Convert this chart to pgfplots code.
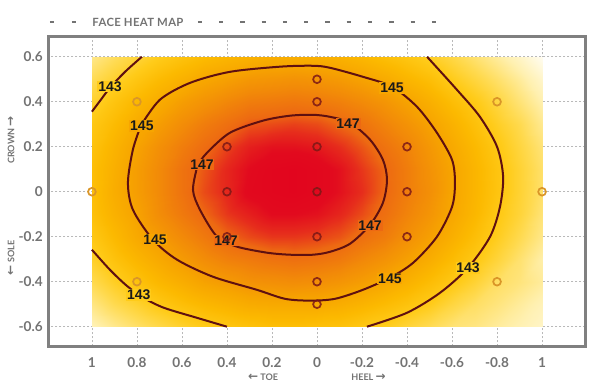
\documentclass[border=0pt]{standalone}
\usepackage{pgfplots}
\pgfplotsset{compat=1.18}
\usepackage{fontspec}
\setmainfont{Lato}
\newfontfamily\numfont{Liberation Sans}
\newfontfamily\arrowfont{DejaVu Sans}
\definecolor{tickgray}{RGB}{115,115,115}
\definecolor{framegray}{RGB}{128,128,128}
\definecolor{gridgray}{RGB}{185,185,185}
\definecolor{contourc}{RGB}{95,16,16}
\definecolor{markdark}{RGB}{125,24,22}
\definecolor{markgold}{RGB}{218,150,40}
\definecolor{c143}{RGB}{255,203,25}
\definecolor{c145}{RGB}{247,165,0}
\definecolor{c147}{RGB}{237,105,18}
\tikzset{clab/.style={font=\numfont\bfseries\fontsize{10.5}{10.5}\selectfont, text=black!90, inner sep=0.6pt}}
\begin{document}
\begin{tikzpicture}
\useasboundingbox (-36.375pt,-31.125pt) rectangle (409.125pt,259.875pt);
\begin{axis}[
  at={(0pt,0pt)}, anchor=south west,
  scale only axis, width=402.75pt, height=232.125pt,
  xmin=-1.193, xmax=1.193, ymin=-0.688, ymax=0.688,
  x dir=reverse,
  xtick={1,0.8,0.6,0.4,0.2,0,-0.2,-0.4,-0.6,-0.8,-1},
  xticklabels={1,0.8,0.6,0.4,0.2,0,-0.2,-0.4,-0.6,-0.8,1},
  ytick={-0.6,-0.4,-0.2,0,0.2,0.4,0.6},
  yticklabels={-0.6,-0.4,-0.2,0,0.2,0.4,0.6},
  major tick length=0pt,
  grid=major,
  grid style={gridgray, line width=0.5pt, dash pattern=on 1.5pt off 1.5pt},
  axis line style={framegray, line width=2.25pt},
  tick label style={font=\bfseries\fontsize{10.2}{10.2}\selectfont, text=tickgray},
  xticklabel style={yshift=-4.5pt},
  yticklabel style={xshift=-0.8pt},
  colormap={heat}{rgb255(0pt)=(255,253,245); rgb255(15pt)=(255,240,175); rgb255(30pt)=(255,218,80); rgb255(40pt)=(255,203,25); rgb255(50pt)=(252,185,0); rgb255(60pt)=(247,165,0); rgb255(70pt)=(242,138,8); rgb255(80pt)=(237,105,18); rgb255(86pt)=(230,45,28); rgb255(91pt)=(226,10,30); rgb255(96pt)=(226,4,30)},
  point meta min=139, point meta max=148.6,
]
\addplot[surf, shader=interp, mesh/cols=21, mesh/rows=13, point meta=explicit, forget plot] coordinates {
(1,.6)[141.1] (.9,.6)[141.8] (.8,.6)[142.4] (.7,.6)[143.0] (.6,.6)[143.5] (.5,.6)[143.9] (.4,.6)[144.2] (.3,.6)[144.4] (.2,.6)[144.6] (.1,.6)[144.6] (0,.6)[144.5] (-.1,.6)[144.4] (-.2,.6)[144.1] (-.3,.6)[143.7] (-.4,.6)[143.3] (-.5,.6)[142.8] (-.6,.6)[142.2] (-.7,.6)[141.5] (-.8,.6)[140.8] (-.9,.6)[140.0] (-1,.6)[139.1]
(1,.5)[141.9] (.9,.5)[142.6] (.8,.5)[143.3] (.7,.5)[143.9] (.6,.5)[144.4] (.5,.5)[144.9] (.4,.5)[145.2] (.3,.5)[145.5] (.2,.5)[145.6] (.1,.5)[145.7] (0,.5)[145.6] (-.1,.5)[145.4] (-.2,.5)[145.1] (-.3,.5)[144.7] (-.4,.5)[144.2] (-.5,.5)[143.7] (-.6,.5)[143.0] (-.7,.5)[142.3] (-.8,.5)[141.6] (-.9,.5)[140.8] (-1,.5)[139.9]
(1,.4)[142.6] (.9,.4)[143.4] (.8,.4)[144.1] (.7,.4)[144.7] (.6,.4)[145.3] (.5,.4)[145.7] (.4,.4)[146.1] (.3,.4)[146.4] (.2,.4)[146.5] (.1,.4)[146.6] (0,.4)[146.5] (-.1,.4)[146.3] (-.2,.4)[146.0] (-.3,.4)[145.6] (-.4,.4)[145.1] (-.5,.4)[144.5] (-.6,.4)[143.8] (-.7,.4)[143.1] (-.8,.4)[142.3] (-.9,.4)[141.4] (-1,.4)[140.5]
(1,.3)[143.2] (.9,.3)[143.9] (.8,.3)[144.7] (.7,.3)[145.3] (.6,.3)[145.9] (.5,.3)[146.4] (.4,.3)[146.8] (.3,.3)[147.2] (.2,.3)[147.3] (.1,.3)[147.4] (0,.3)[147.3] (-.1,.3)[147.0] (-.2,.3)[146.7] (-.3,.3)[146.2] (-.4,.3)[145.7] (-.5,.3)[145.1] (-.6,.3)[144.4] (-.7,.3)[143.6] (-.8,.3)[142.8] (-.9,.3)[142.0] (-1,.3)[141.0]
(1,.2)[143.5] (.9,.2)[144.3] (.8,.2)[145.1] (.7,.2)[145.8] (.6,.2)[146.4] (.5,.2)[146.9] (.4,.2)[147.4] (.3,.2)[147.8] (.2,.2)[148.0] (.1,.2)[148.0] (0,.2)[147.9] (-.1,.2)[147.6] (-.2,.2)[147.2] (-.3,.2)[146.7] (-.4,.2)[146.2] (-.5,.2)[145.5] (-.6,.2)[144.8] (-.7,.2)[144.0] (-.8,.2)[143.2] (-.9,.2)[142.3] (-1,.2)[141.4]
(1,.1)[143.7] (.9,.1)[144.5] (.8,.1)[145.3] (.7,.1)[146.0] (.6,.1)[146.7] (.5,.1)[147.2] (.4,.1)[147.7] (.3,.1)[148.1] (.2,.1)[148.4] (.1,.1)[148.5] (0,.1)[148.3] (-.1,.1)[148.0] (-.2,.1)[147.5] (-.3,.1)[147.0] (-.4,.1)[146.4] (-.5,.1)[145.7] (-.6,.1)[145.0] (-.7,.1)[144.2] (-.8,.1)[143.4] (-.9,.1)[142.5] (-1,.1)[141.6]
(1,0)[143.7] (.9,0)[144.6] (.8,0)[145.3] (.7,0)[146.0] (.6,0)[146.7] (.5,0)[147.3] (.4,0)[147.7] (.3,0)[148.2] (.2,0)[148.4] (.1,0)[148.5] (0,0)[148.3] (-.1,0)[148.0] (-.2,0)[147.6] (-.3,0)[147.0] (-.4,0)[146.4] (-.5,0)[145.8] (-.6,0)[145.0] (-.7,0)[144.2] (-.8,0)[143.4] (-.9,0)[142.5] (-1,0)[141.6]
(1,-.1)[143.6] (.9,-.1)[144.4] (.8,-.1)[145.1] (.7,-.1)[145.9] (.6,-.1)[146.5] (.5,-.1)[147.0] (.4,-.1)[147.5] (.3,-.1)[147.8] (.2,-.1)[148.1] (.1,-.1)[148.1] (0,-.1)[148.0] (-.1,-.1)[147.7] (-.2,-.1)[147.3] (-.3,-.1)[146.8] (-.4,-.1)[146.2] (-.5,-.1)[145.6] (-.6,-.1)[144.9] (-.7,-.1)[144.1] (-.8,-.1)[143.2] (-.9,-.1)[142.4] (-1,-.1)[141.4]
(1,-.2)[143.2] (.9,-.2)[144.0] (.8,-.2)[144.8] (.7,-.2)[145.4] (.6,-.2)[146.0] (.5,-.2)[146.5] (.4,-.2)[147.0] (.3,-.2)[147.3] (.2,-.2)[147.5] (.1,-.2)[147.5] (0,-.2)[147.4] (-.1,-.2)[147.2] (-.2,-.2)[146.8] (-.3,-.2)[146.4] (-.4,-.2)[145.8] (-.5,-.2)[145.2] (-.6,-.2)[144.5] (-.7,-.2)[143.7] (-.8,-.2)[142.9] (-.9,-.2)[142.0] (-1,-.2)[141.1]
(1,-.3)[142.7] (.9,-.3)[143.5] (.8,-.3)[144.2] (.7,-.3)[144.8] (.6,-.3)[145.4] (.5,-.3)[145.9] (.4,-.3)[146.3] (.3,-.3)[146.5] (.2,-.3)[146.7] (.1,-.3)[146.8] (0,-.3)[146.7] (-.1,-.3)[146.5] (-.2,-.3)[146.1] (-.3,-.3)[145.7] (-.4,-.3)[145.2] (-.5,-.3)[144.6] (-.6,-.3)[143.9] (-.7,-.3)[143.2] (-.8,-.3)[142.4] (-.9,-.3)[141.5] (-1,-.3)[140.6]
(1,-.4)[142.0] (.9,-.4)[142.8] (.8,-.4)[143.5] (.7,-.4)[144.1] (.6,-.4)[144.6] (.5,-.4)[145.1] (.4,-.4)[145.4] (.3,-.4)[145.7] (.2,-.4)[145.8] (.1,-.4)[145.9] (0,-.4)[145.8] (-.1,-.4)[145.6] (-.2,-.4)[145.3] (-.3,-.4)[144.9] (-.4,-.4)[144.4] (-.5,-.4)[143.8] (-.6,-.4)[143.2] (-.7,-.4)[142.5] (-.8,-.4)[141.7] (-.9,-.4)[141.3] (-1,-.4)[140.8]
(1,-.5)[141.2] (.9,-.5)[142.0] (.8,-.5)[142.6] (.7,-.5)[143.2] (.6,-.5)[143.7] (.5,-.5)[144.1] (.4,-.5)[144.4] (.3,-.5)[144.7] (.2,-.5)[144.8] (.1,-.5)[144.8] (0,-.5)[144.8] (-.1,-.5)[144.6] (-.2,-.5)[144.3] (-.3,-.5)[143.9] (-.4,-.5)[143.5] (-.5,-.5)[143.0] (-.6,-.5)[142.3] (-.7,-.5)[141.7] (-.8,-.5)[141.3] (-.9,-.5)[140.8] (-1,-.5)[140.3]
(1,-.6)[140.3] (.9,-.6)[141.0] (.8,-.6)[141.6] (.7,-.6)[142.1] (.6,-.6)[142.6] (.5,-.6)[143.0] (.4,-.6)[143.3] (.3,-.6)[143.5] (.2,-.6)[143.7] (.1,-.6)[143.7] (0,-.6)[143.6] (-.1,-.6)[143.5] (-.2,-.6)[143.2] (-.3,-.6)[142.9] (-.4,-.6)[142.4] (-.5,-.6)[141.9] (-.6,-.6)[141.4] (-.7,-.6)[141.2] (-.8,-.6)[140.8] (-.9,-.6)[140.4] (-1,-.6)[140.0]
};
% contour 147
\addplot[smooth, contourc, line width=1.5pt] coordinates {
(0.530,0.120) (0.489,0.173) (0.387,0.262) (0.240,0.316) (0.120,0.338) (0.018,0.342) (-0.058,0.333) (-0.147,0.307) (-0.236,0.231) (-0.293,0.142) (-0.311,0.053) (-0.293,-0.049) (-0.236,-0.147) (-0.147,-0.231) (-0.058,-0.267) (0.018,-0.280) (0.120,-0.280) (0.222,-0.271) (0.356,-0.244) (0.444,-0.200) (0.520,-0.080) (0.551,0.009) (0.530,0.120)};
% contour 145
\addplot[smooth, contourc, line width=1.5pt] coordinates {
(0.783,0.293) (0.698,0.409) (0.564,0.484) (0.387,0.533) (0.164,0.556) (0.018,0.560) (-0.058,0.551) (-0.204,0.511) (-0.333,0.467) (-0.444,0.378) (-0.533,0.262) (-0.600,0.142) (-0.613,0.040) (-0.600,-0.067) (-0.533,-0.200) (-0.427,-0.316) (-0.324,-0.382) (-0.204,-0.436) (-0.080,-0.476) (0.031,-0.484) (0.142,-0.476) (0.267,-0.436) (0.462,-0.378) (0.622,-0.302) (0.729,-0.213) (0.818,-0.080) (0.840,0.040) (0.818,0.187) (0.783,0.293)};
% contour 143
\addplot[smooth, contourc, line width=1.5pt] coordinates {
(0.778,0.600) (0.853,0.533) (0.920,0.462) (0.964,0.404) (1.0,0.356)};
\addplot[smooth, contourc, line width=1.5pt] coordinates {
(1.0,-0.258) (0.920,-0.347) (0.844,-0.419) (0.770,-0.472) (0.680,-0.516) (0.535,-0.560) (0.400,-0.600)};
\addplot[smooth, contourc, line width=1.5pt] coordinates {
(-0.489,0.600) (-0.622,0.453) (-0.724,0.333) (-0.800,0.200) (-0.827,0.067) (-0.813,-0.067) (-0.769,-0.200) (-0.671,-0.338) (-0.547,-0.449) (-0.400,-0.538) (-0.222,-0.600)};
% markers
\addplot[only marks, mark=o, mark size=2.9pt, mark options={draw=markdark, draw opacity=0.85, line width=1.3pt}] coordinates {
(0,0.5) (0,0.4) (0,0.2) (0,0) (0,-0.2) (0,-0.4) (0,-0.5) (0.4,0.2) (0.4,0) (0.4,-0.2) (-0.4,0.2) (-0.4,0) (-0.4,-0.2)};
\addplot[only marks, mark=o, mark size=2.9pt, mark options={draw=markgold, line width=1.3pt}] coordinates {
(1,0) (0.8,0.4) (0.8,-0.4) (-0.8,0.4) (-0.8,-0.4) (-1,0)};
% contour labels
\node[clab, fill=c143] at (axis cs:0.92,0.467) {143};
\node[clab, fill=c143] at (axis cs:0.792,-0.458) {143};
\node[clab, fill=c143] at (axis cs:-0.671,-0.338) {143};
\node[clab, fill=c145] at (axis cs:0.778,0.293) {145};
\node[clab, fill=c145] at (axis cs:0.720,-0.213) {145};
\node[clab, fill=c145] at (axis cs:-0.333,0.462) {145};
\node[clab, fill=c145] at (axis cs:-0.324,-0.387) {145};
\node[clab, fill=c147] at (axis cs:0.511,0.120) {147};
\node[clab, fill=c147] at (axis cs:0.404,-0.218) {147};
\node[clab, fill=c147] at (axis cs:-0.138,0.302) {147};
\node[clab, fill=c147] at (axis cs:-0.236,-0.151) {147};
\end{axis}
% title with dashes
\foreach \xx in {2.6,19.1} {\draw[tickgray, line width=1.3pt] ({\xx pt-1.6pt},243.4pt) -- ({\xx pt+1.6pt},243.4pt);}
\foreach \i in {0,...,11} {\draw[tickgray, line width=1.3pt] ({113.6pt+\i*15.95pt-1.6pt},243.4pt) -- ({113.6pt+\i*15.95pt+1.6pt},243.4pt);}
\node[text=tickgray, font=\bfseries\fontsize{8.5}{8.5}\selectfont\addfontfeatures{LetterSpace=3}] at (67.1pt,243.4pt) {FACE HEAT MAP};
% axis labels
\node[text=tickgray, font=\bfseries\fontsize{6.8}{6.8}\selectfont] at (160.9pt,-22.9pt) {{\arrowfont\fontsize{9}{9}\selectfont ←} TOE};
\node[text=tickgray, font=\bfseries\fontsize{6.8}{6.8}\selectfont] at (240.0pt,-22.9pt) {HEEL {\arrowfont\fontsize{9}{9}\selectfont →}};
\node[text=tickgray, font=\bfseries\fontsize{6.8}{6.8}\selectfont, rotate=90] at (-28.1pt,154.9pt) {CROWN {\arrowfont\fontsize{9}{9}\selectfont →}};
\node[text=tickgray, font=\bfseries\fontsize{6.8}{6.8}\selectfont, rotate=90] at (-28.1pt,66.4pt) {{\arrowfont\fontsize{9}{9}\selectfont ←} SOLE};
\end{tikzpicture}
\end{document}
